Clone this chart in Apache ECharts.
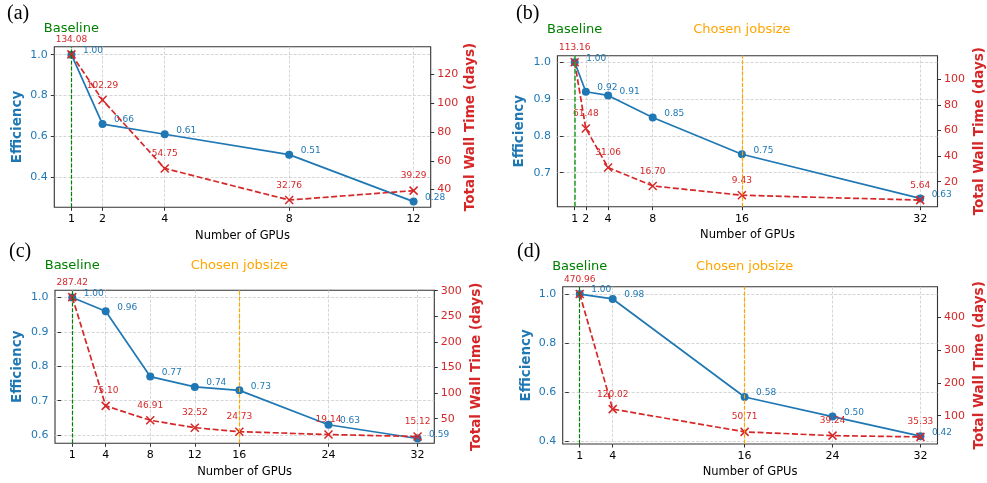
<!DOCTYPE html>
<html>
<head>
<meta charset="utf-8">
<script src="https://cdn.jsdelivr.net/npm/echarts@6/dist/echarts.min.js"></script>
<style>
  html, body { margin: 0; padding: 0; background: #ffffff; }
  #chart { width: 987px; height: 483px; }
</style>
</head>
<body>
<div id="chart"></div>
<script>
// Panel (a)
const gpusA = [1, 2, 4, 8, 12];
const effA = [1.00, 0.66, 0.61, 0.51, 0.28];
const wallA = [134.08, 102.29, 54.75, 32.76, 39.29];
const effTicksA = [0.4, 0.6, 0.8, 1.0];
const wallTicksA = [40, 60, 80, 100, 120];

// Panel (b)
const gpusB = [1, 2, 4, 8, 16, 32];
const effB = [1.00, 0.92, 0.91, 0.85, 0.75, 0.63];
const wallB = [113.16, 61.48, 31.06, 16.70, 9.43, 5.64];
const effTicksB = [0.7, 0.8, 0.9, 1.0];
const wallTicksB = [20, 40, 60, 80, 100];

// Panel (c)
const gpusC = [1, 4, 8, 12, 16, 24, 32];
const effC = [1.00, 0.96, 0.77, 0.74, 0.73, 0.63, 0.59];
const wallC = [287.42, 75.10, 46.91, 32.52, 24.73, 19.14, 15.12];
const effTicksC = [0.6, 0.7, 0.8, 0.9, 1.0];
const wallTicksC = [50, 100, 150, 200, 250, 300];

// Panel (d)
const gpusD = [1, 4, 16, 24, 32];
const effD = [1.00, 0.98, 0.58, 0.50, 0.42];
const wallD = [470.96, 120.02, 50.71, 39.24, 35.33];
const effTicksD = [0.4, 0.6, 0.8, 1.0];
const wallTicksD = [100, 200, 300, 400];

// Reference job sizes marked by vertical lines
const baselineGpus = 1;
const chosenGpus = 16;

const BLUE = '#1f77b4';
const RED = '#d62728';
const ORANGE = '#ffa500';
const FONT = 'DejaVu Sans';
const X_MARK = 'path://M0,0L10,10M10,0L0,10';

const darkGreen = { color: '#008000', width: 1.2, type: [4, 1.7] };
const lightGreen = { color: 'rgba(44,160,44,0.8)', width: 2, type: [5, 2] };

const panels = [
  {
    tag: '(a)', tagPos: [7, 4],
    gpus: gpusA, eff: effA, wall: wallA, effTicks: effTicksA, wallTicks: wallTicksA,
    grid: { left: 54.3, top: 46.7, width: 376.4, height: 160.6 },
    xRange: [0.45, 12.55], effRange: [0.252, 1.039], wallRange: [27.7, 139.4],
    effGap: 29.5, wallGap: 33, xGap: 23,
    showChosen: false, baseStyle: darkGreen, baseDist: 11.5, chosenDist: 0
  },
  {
    tag: '(b)', tagPos: [516, 4],
    gpus: gpusB, eff: effB, wall: wallB, effTicks: effTicksB, wallTicks: wallTicksB,
    grid: { left: 557.4, top: 55.7, width: 381.6, height: 151 },
    xRange: [-0.55, 33.55], effRange: [0.6075, 1.018], wallRange: [0.5, 118.3],
    effGap: 30.5, wallGap: 34.5, xGap: 22.5,
    showChosen: true, baseStyle: lightGreen, baseDist: 19.5, chosenDist: 19.5
  },
  {
    tag: '(c)', tagPos: [9, 242],
    gpus: gpusC, eff: effC, wall: wallC, effTicks: effTicksC, wallTicks: wallTicksC,
    grid: { left: 55, top: 290.3, width: 379.3, height: 153 },
    xRange: [-0.55, 33.5], effRange: [0.576, 1.021], wallRange: [2, 300.8],
    effGap: 30.5, wallGap: 35.5, xGap: 23,
    showChosen: true, baseStyle: darkGreen, baseDist: 18.5, chosenDist: 18.5
  },
  {
    tag: '(d)', tagPos: [517, 242],
    gpus: gpusD, eff: effD, wall: wallD, effTicks: effTicksD, wallTicks: wallTicksD,
    grid: { left: 562.7, top: 286.7, width: 375.6, height: 157.3 },
    xRange: [-0.55, 33.55], effRange: [0.388, 1.030], wallRange: [13.7, 493],
    effGap: 29.5, wallGap: 34.5, xGap: 22.5,
    showChosen: true, baseStyle: darkGreen, baseDist: 13.5, chosenDist: 13.5
  }
];

const gridLine = { color: '#cccccc', width: 0.8, type: [3, 1.6] };
const tickLine = { color: '#333333', width: 1 };

const option = {
  animation: false,
  backgroundColor: '#ffffff',
  textStyle: { fontFamily: FONT },
  title: [],
  grid: [],
  xAxis: [],
  yAxis: [],
  series: []
};

panels.forEach((p, i) => {
  option.title.push({
    text: p.tag, left: p.tagPos[0], top: p.tagPos[1], padding: 0,
    textStyle: { fontFamily: 'Liberation Serif', fontSize: 20, fontWeight: 'normal', color: '#000000' }
  });

  option.grid.push(Object.assign({
    show: true, borderColor: '#333333', borderWidth: 1.1, backgroundColor: 'transparent'
  }, p.grid));

  option.xAxis.push({
    type: 'value', gridIndex: i, min: p.xRange[0], max: p.xRange[1],
    name: 'Number of GPUs', nameLocation: 'middle', nameGap: p.xGap,
    nameTextStyle: { fontSize: 11.5, color: '#000000', fontFamily: FONT },
    axisLine: { show: false, onZero: false },
    axisTick: { show: true, length: 3.5, lineStyle: tickLine, customValues: p.gpus },
    axisLabel: { show: true, customValues: p.gpus, fontSize: 11, color: '#000000', margin: 6.5, fontFamily: FONT },
    splitLine: { show: true, lineStyle: gridLine }
  });

  option.yAxis.push({
    type: 'value', gridIndex: i, position: 'left', min: p.effRange[0], max: p.effRange[1],
    name: 'Efficiency', nameLocation: 'middle', nameGap: p.effGap,
    nameTextStyle: { fontSize: 13.5, fontWeight: 'bold', color: BLUE, fontFamily: FONT },
    axisLine: { show: false },
    axisTick: { show: true, length: 3.5, lineStyle: tickLine, customValues: p.effTicks },
    axisLabel: { show: true, customValues: p.effTicks, fontSize: 11, color: BLUE, margin: 6.5,
                 fontFamily: FONT, formatter: v => v.toFixed(1) },
    splitLine: { show: true, lineStyle: gridLine }
  });

  option.yAxis.push({
    type: 'value', gridIndex: i, position: 'right', min: p.wallRange[0], max: p.wallRange[1],
    name: 'Total Wall Time (days)', nameLocation: 'middle', nameGap: p.wallGap,
    nameTextStyle: { fontSize: 13.5, fontWeight: 'bold', color: RED, fontFamily: FONT },
    axisLine: { show: false },
    axisTick: { show: true, length: 3.5, lineStyle: tickLine, customValues: p.wallTicks },
    axisLabel: { show: true, customValues: p.wallTicks, fontSize: 11, color: RED, margin: 6.5,
                 fontFamily: FONT, formatter: v => String(Math.round(v)) },
    splitLine: { show: false }
  });

  const refLines = [{
    xAxis: baselineGpus,
    lineStyle: p.baseStyle,
    label: { show: true, position: 'end', formatter: 'Baseline', color: '#008000',
             fontSize: 13, fontFamily: FONT, distance: p.baseDist }
  }];
  if (p.showChosen) {
    refLines.push({
      xAxis: chosenGpus,
      lineStyle: { color: ORANGE, width: 1.2, type: [4, 1.7] },
      label: { show: true, position: 'end', formatter: 'Chosen jobsize', color: ORANGE,
               fontSize: 13, fontFamily: FONT, distance: p.chosenDist }
    });
  }

  option.series.push({
    name: 'Efficiency', type: 'line', xAxisIndex: i, yAxisIndex: 2 * i, z: 2,
    data: p.gpus.map((g, k) => [g, p.eff[k]]),
    symbol: 'circle', symbolSize: 8, showAllSymbol: true,
    lineStyle: { color: BLUE, width: 1.7 },
    itemStyle: { color: BLUE },
    label: { show: true, position: 'right', distance: 7.5, offset: [0, -4],
             fontSize: 9, color: BLUE, fontFamily: FONT,
             formatter: d => d.value[1].toFixed(2) },
    markLine: { silent: true, symbol: ['none', 'none'], animation: false, data: refLines }
  });

  option.series.push({
    name: 'Total Wall Time', type: 'line', xAxisIndex: i, yAxisIndex: 2 * i + 1, z: 3,
    data: p.gpus.map((g, k) => [g, p.wall[k]]),
    symbol: X_MARK, symbolSize: 8, showAllSymbol: true,
    lineStyle: { color: RED, width: 1.7, type: [6, 2.6] },
    itemStyle: { color: RED, borderColor: RED, borderWidth: 1.5 },
    label: { show: true, position: 'top', distance: 5.5,
             fontSize: 9, color: RED, fontFamily: FONT,
             formatter: d => d.value[1].toFixed(2) }
  });
});

const chart = echarts.init(document.getElementById('chart'), null, { renderer: 'canvas' });
chart.setOption(option);
</script>
</body>
</html>
